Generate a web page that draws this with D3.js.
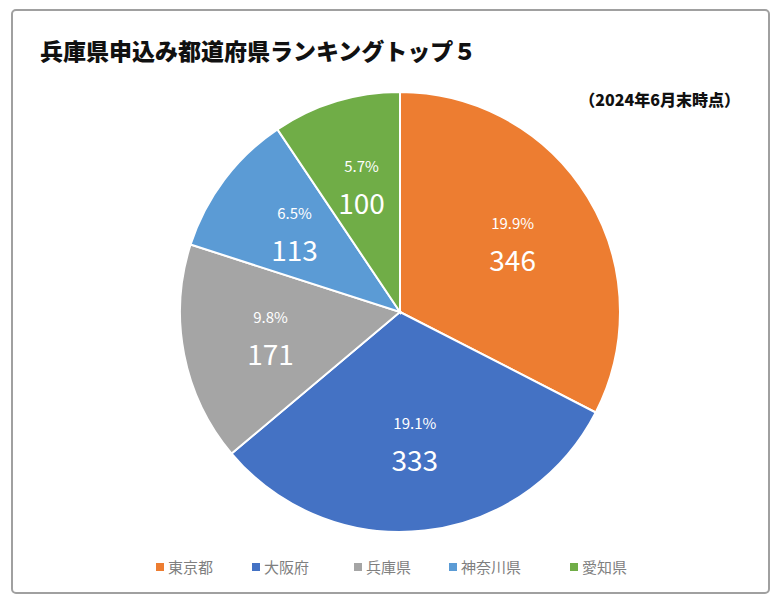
<!DOCTYPE html><html><head><meta charset="utf-8"><script src="https://cdn.jsdelivr.net/npm/d3@7"></script>
<style>body{margin:0;background:#fff}</style></head><body><svg id="c" width="780" height="600"></svg>
<script>
const categories=["東京都","大阪府","兵庫県","神奈川県","愛知県"];
const values=[346,333,171,113,100];
const percents=["19.9%","19.1%","9.8%","6.5%","5.7%"];
const colors=["#ED7D31","#4472C4","#A5A5A5","#5B9BD5","#70AD47"];
const svg=d3.select("#c");
const F="'Noto Sans CJK JP','Noto Sans',sans-serif";
svg.append("rect").attr("x",12).attr("y",10).attr("width",757).attr("height",583).attr("rx",4)
  .attr("fill","#fff").attr("stroke","#a0a0a0").attr("stroke-width",2);
svg.append("text").attr("x",40).attr("y",60).attr("font-family",F).attr("font-weight",900)
  .attr("font-size",23).attr("fill","#111").text("兵庫県申込み都道府県ランキングトップ５");
svg.append("text").attr("x",740).attr("y",106).attr("text-anchor","end").attr("font-family",F)
  .attr("font-weight",900).attr("font-size",16).attr("fill","#111").text("（2024年6月末時点）");
const cx=400,cy=312,R=220;
const pie=d3.pie().sort(null).value(d=>d)(values);
const arc=d3.arc().innerRadius(0).outerRadius(R);
const lab=d3.arc().innerRadius(R*0.6).outerRadius(R*0.6);
const g=svg.append("g").attr("transform",`translate(${cx},${cy})`);
g.selectAll("path").data(pie).join("path").attr("d",arc).attr("fill",(d,i)=>colors[i])
  .attr("stroke","#fff").attr("stroke-width",2);
pie.forEach((d,i)=>{
  const [x,y]=lab.centroid(d);
  g.append("text").attr("x",x).attr("y",y-14).attr("text-anchor","middle").attr("font-family",F)
    .attr("font-size",15).attr("fill","#fff").text(percents[i]);
  g.append("text").attr("x",x).attr("y",y+28).attr("text-anchor","middle").attr("font-family",F)
    .attr("font-size",28).attr("fill","#fff").text(values[i]);
});
const lx=[156,252,354,449,570];
categories.forEach((c,i)=>{
  svg.append("rect").attr("x",lx[i]).attr("y",563).attr("width",8).attr("height",8).attr("fill",colors[i]);
  svg.append("text").attr("x",lx[i]+12).attr("y",573).attr("font-family",F).attr("font-size",15)
    .attr("fill","#7f7f7f").text(c);
});
</script></body></html>
